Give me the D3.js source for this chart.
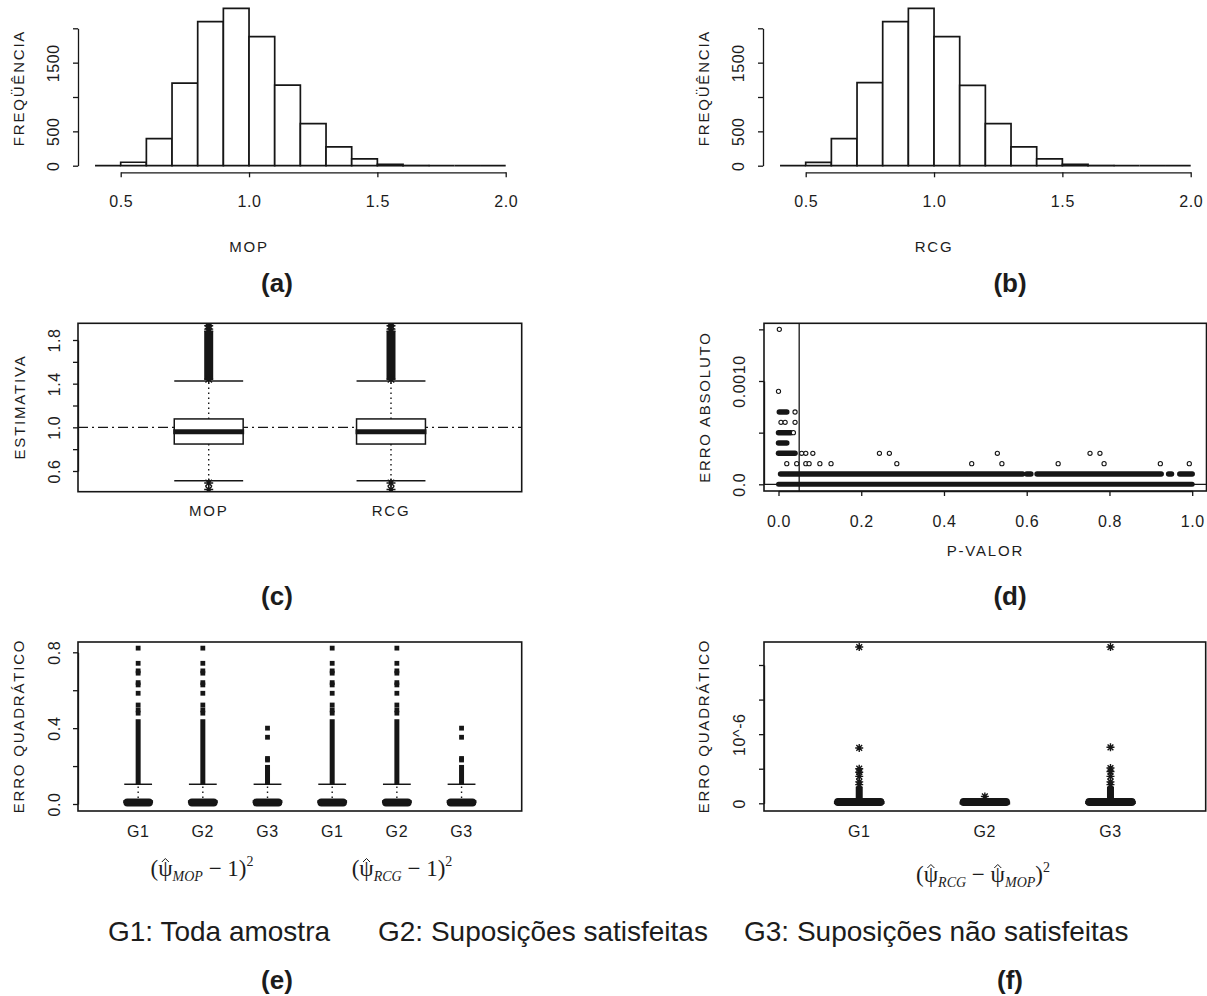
<!DOCTYPE html>
<html>

<head>
    <meta charset="UTF-8" />
    <title>MOP x RCG</title>
    <style>
        body {
            margin: 0;
            padding: 0;
            background-color: white;
        }

        svg text {
            font-family: 'Liberation Sans', Arial, sans-serif;
            fill: #1c1c1c;
        }

        .rtext {
            font-size: 15px;
            letter-spacing: 1.8px;
        }

        .ticktext {
            font-size: 16px;
            letter-spacing: 0.6px;
        }

        text.formula {
            font-family: 'Liberation Serif', 'Times New Roman', serif;
        }
    </style>
</head>

<body>

    <script src="https://cdnjs.cloudflare.com/ajax/libs/d3/7.8.5/d3.min.js"></script>

    <script>
        // ---- data ----
        const histBreaks = [0.4, 0.5, 0.6, 0.7, 0.8, 0.9, 1.0, 1.1, 1.2, 1.3, 1.4, 1.5, 1.6, 1.7, 1.8, 1.9, 2.0]
        const mopCounts = [0, 50, 393, 1201, 2098, 2290, 1878, 1172, 613, 275, 99, 20, 3, 0, 0, 0]
        const rcgCounts = [0, 48, 393, 1208, 2098, 2290, 1878, 1168, 613, 275, 99, 20, 3, 0, 0, 0]
        const histXTicks = [0.5, 1.0, 1.5, 2.0]
        const histYTicks = [0, 500, 1000, 1500, 2000]
        const histYLabels = [0, 500, 1500]

        const estGroups = ['MOP', 'RCG']
        // lower whisker, q1, median, q3, upper whisker
        const estBox = [[0.51, 0.847, 0.96, 1.077, 1.424], [0.51, 0.847, 0.96, 1.077, 1.424]]
        const estOutRun = [1.44, 1.88]
        const estOutHigh = [1.90, 1.93, 1.96]
        const estOutLow = [0.49, 0.43]
        const estYTicks = [0.6, 0.8, 1.0, 1.2, 1.4, 1.6, 1.8]
        const estYLabels = [0.6, 1.0, 1.4, 1.8]

        const pXTicks = [0, 0.2, 0.4, 0.6, 0.8, 1.0]
        const errYTicks = [0, 0.0005, 0.001, 0.0015]
        const errYLabels = [0, 0.001]
        // [erro, p from, p to] : stretches where the points overlap into a bar
        const errRuns = [
            [0, 0, 1.0],
            [0.0001, 0.005, 0.025], [0.0001, 0.03, 0.455], [0.0001, 0.46, 0.59], [0.0001, 0.60, 0.61],
            [0.0001, 0.625, 0.925], [0.0001, 0.943, 0.95], [0.0001, 0.97, 1.0],
            [0.0003, 0.0, 0.04], [0.0004, 0.0, 0.02], [0.0005, 0.0, 0.03], [0.0007, 0.002, 0.02]
        ]
        // [p, erro] : single points
        const errPoints = [
            [0.002, 0.0015], [0.0, 0.0009],
            [0.04, 0.0007], [0.006, 0.0006], [0.016, 0.0006], [0.04, 0.0006], [0.036, 0.0005],
            [0.056, 0.0003], [0.066, 0.0003], [0.083, 0.0003], [0.244, 0.0003], [0.268, 0.0003],
            [0.529, 0.0003], [0.753, 0.0003], [0.777, 0.0003],
            [0.02, 0.0002], [0.044, 0.0002], [0.066, 0.0002], [0.074, 0.0002], [0.1, 0.0002], [0.127, 0.0002],
            [0.286, 0.0002], [0.467, 0.0002], [0.54, 0.0002], [0.676, 0.0002], [0.787, 0.0002],
            [0.923, 0.0002], [0.993, 0.0002]
        ]

        const sqGroups = ['G1', 'G2', 'G3', 'G1 ', 'G2 ', 'G3 ']
        const sqBox = [
            [0, 0.001, 0.012, 0.032, 0.104], [0, 0.001, 0.012, 0.032, 0.104], [0, 0.001, 0.012, 0.032, 0.104],
            [0, 0.001, 0.012, 0.032, 0.104], [0, 0.001, 0.012, 0.032, 0.104], [0, 0.001, 0.012, 0.032, 0.104]
        ]
        const sqOutRun = [[0.104, 0.447], [0.104, 0.447], [0.104, 0.206], [0.104, 0.447], [0.104, 0.447], [0.104, 0.206]]
        const sqOutG12 = [0.479, 0.496, 0.522, 0.584, 0.628, 0.64, 0.69, 0.702, 0.742, 0.822]
        const sqOutG3 = [0.232, 0.24, 0.352, 0.40]
        const sqOutliers = [sqOutG12, sqOutG12, sqOutG3, sqOutG12, sqOutG12, sqOutG3]
        const sqYTicks = [0, 0.2, 0.4, 0.6, 0.8]
        const sqYLabels = [0, 0.4, 0.8]

        // differences, in units of 10^-6
        const difGroups = ['G1', 'G2', 'G3']
        const difBox = [[0, 0, 0.1, 0.35, 0.4], [0, 0, 0.05, 0.3, 0.35], [0, 0, 0.1, 0.35, 0.4]]
        const difOutRun = [[0.4, 2.4], [0.35, 0.8], [0.4, 2.4]]
        const difOutliers = [[2.7, 3.1, 3.9, 4.5, 5.0, 8.0, 22.6], [1.0], [2.7, 3.1, 3.9, 4.6, 5.1, 8.1, 22.6]]
        const difYTicks = [0, 5, 10, 15, 20]
        const difYLabels = [0, 10]
        const difYLabelText = ['0', '10^-6']

        const legendItems = ['G1: Toda amostra', 'G2: Suposições satisfeitas', 'G3: Suposições não satisfeitas']

        // ---- drawing ----
        const ink = '#161616'
        const DX = 685

        const svg = d3.select('body').append('svg')
            .attr('width', 1207)
            .attr('height', 996)

        function vlabel(x, y, txt) {
            svg.append('text')
                .attr('class', 'rtext')
                .attr('transform', `translate(${x},${y}) rotate(-90)`)
                .attr('text-anchor', 'middle')
                .attr('dominant-baseline', 'central')
                .text(txt)
        }

        function hlabel(x, y, txt, cls) {
            svg.append('text')
                .attr('class', cls || 'rtext')
                .attr('x', x).attr('y', y)
                .attr('text-anchor', 'middle')
                .attr('dominant-baseline', 'central')
                .text(txt)
        }

        function tag(x, y, txt) {
            svg.append('text')
                .attr('x', x).attr('y', y)
                .attr('text-anchor', 'middle')
                .style('font-size', '26px')
                .style('font-weight', 'bold')
                .text(txt)
        }

        function yAxis(x, scale, ticks, fmt, labelX) {
            const g = svg.append('g')
                .attr('transform', `translate(${x},0)`)
                .call(d3.axisLeft(scale).tickValues(ticks).tickSize(5).tickSizeOuter(0).tickFormat(fmt))
            g.selectAll('.domain, .tick line').attr('stroke', ink).attr('stroke-width', 1.3)
            g.selectAll('.tick text')
                .attr('class', 'ticktext')
                .attr('x', null).attr('dy', null)
                .attr('transform', `translate(${labelX - x},0) rotate(-90)`)
                .attr('text-anchor', 'middle')
                .attr('dominant-baseline', 'central')
            return g
        }

        function xAxis(y, scale, ticks, fmt, labelY) {
            const g = svg.append('g')
                .attr('transform', `translate(0,${y})`)
                .call(d3.axisBottom(scale).tickValues(ticks).tickSize(5).tickSizeOuter(0).tickFormat(fmt))
            g.selectAll('.domain, .tick line').attr('stroke', ink).attr('stroke-width', 1.3)
            g.selectAll('.tick text')
                .attr('class', 'ticktext')
                .attr('y', labelY - y).attr('dy', null)
                .attr('dominant-baseline', 'central')
            return g
        }

        function frame(id, x0, x1, y0, y1) {
            svg.append('clipPath').attr('id', id)
                .append('rect').attr('x', x0).attr('y', y0).attr('width', x1 - x0).attr('height', y1 - y0)
            svg.append('rect')
                .attr('x', x0).attr('y', y0).attr('width', x1 - x0).attr('height', y1 - y0)
                .attr('fill', 'none').attr('stroke', ink).attr('stroke-width', 1.6)
            return svg.append('g').attr('clip-path', `url(#${id})`)
        }

        function starPath(x, y, r) {
            const d = r * 0.72
            return `M${x - r},${y}H${x + r}M${x},${y - r}V${y + r}` +
                `M${x - d},${y - d}L${x + d},${y + d}M${x - d},${y + d}L${x + d},${y - d}`
        }

        function labelFilter(list, fmt) {
            return d => list.includes(d) ? fmt(d) : ''
        }

        // (a) and (b) histograms
        function histogram(dx, counts, xlab) {
            const x = d3.scaleLinear([0.5, 2.0], [120.7 + dx, 505.7 + dx])
            const y = d3.scaleLinear([0, 2000], [165.7, 28.3])
            const bins = counts.map((c, i) => ({ x0: histBreaks[i], x1: histBreaks[i + 1], n: c }))
            svg.append('g').selectAll('path')
                .data(bins)
                .join('path')
                .attr('d', d => `M${x(d.x0)},${y(0)}V${y(d.n)}H${x(d.x1)}V${y(0)}Z`)
                .attr('fill', 'white')
                .attr('stroke', ink)
                .attr('stroke-width', 1.7)
            yAxis(78 + dx, y, histYTicks, labelFilter(histYLabels, d => String(d)), 53 + dx)
            xAxis(172.3, x, histXTicks, d3.format('.1f'), 202)
            vlabel(18 + dx, 88, 'FREQÜÊNCIA')
            hlabel(x(1.0), 246, xlab)
        }
        histogram(0, mopCounts, 'MOP')
        histogram(DX, rcgCounts, 'RCG')

        // generic box drawing for R style boxplots
        function boxes(g, x, y, groups, stats, bw, medW) {
            groups.forEach((k, i) => {
                const [lo, q1, med, q3, hi] = stats[i]
                const cx = x(k)
                g.append('line').attr('x1', cx).attr('x2', cx).attr('y1', y(q3)).attr('y2', y(hi))
                    .attr('stroke', ink).attr('stroke-width', 1.4).attr('stroke-dasharray', '1.5,3.5')
                g.append('line').attr('x1', cx).attr('x2', cx).attr('y1', y(q1)).attr('y2', y(lo))
                    .attr('stroke', ink).attr('stroke-width', 1.4).attr('stroke-dasharray', '1.5,3.5')
                    ;[lo, hi].forEach(v => {
                        g.append('line').attr('x1', cx - bw / 2).attr('x2', cx + bw / 2)
                            .attr('y1', y(v)).attr('y2', y(v))
                            .attr('stroke', ink).attr('stroke-width', 1.5)
                    })
                const raw = y(q1) - y(q3)
                const thin = raw < 7
                const h = thin ? 6.5 : raw
                g.append('rect').attr('x', cx - bw / 2).attr('width', bw)
                    .attr('y', thin ? y(q1) + 2 - h : y(q3)).attr('height', h)
                    .attr('fill', thin ? ink : 'white').attr('stroke', ink).attr('stroke-width', 1.5)
                    .attr('rx', thin ? 3 : 0)
                g.append('line').attr('x1', cx - bw / 2 - 1).attr('x2', cx + bw / 2 + 1)
                    .attr('y1', y(med)).attr('y2', y(med))
                    .attr('stroke', ink).attr('stroke-width', medW)
            })
        }

        // (c) estimates
        {
            const x = d3.scalePoint(estGroups, [78, 521.7]).padding(0.717)
            const y = d3.scaleLinear([0.6, 1.8], [471, 340])
            const g = frame('clipC', 78, 521.7, 323.3, 491.7)
            g.append('line').attr('x1', 78).attr('x2', 521.7).attr('y1', y(1.0)).attr('y2', y(1.0))
                .attr('stroke', ink).attr('stroke-width', 1.4).attr('stroke-dasharray', '10,4,2,4')
            boxes(g, x, y, estGroups, estBox, x.step() * 0.378, 5)
            estGroups.forEach(k => {
                const cx = x(k)
                g.append('rect').attr('x', cx - 4.5).attr('width', 9)
                    .attr('y', y(estOutRun[1])).attr('height', y(estOutRun[0]) - y(estOutRun[1]))
                    .attr('fill', ink)
                estOutRun.concat(estOutHigh, estOutLow).forEach(v => {
                    g.append('path').attr('d', starPath(cx, y(v), 4.5))
                        .attr('stroke', ink).attr('stroke-width', 1.4)
                })
                hlabel(cx, 510.7, k)
            })
            yAxis(78, y, estYTicks, labelFilter(estYLabels, d3.format('.1f')), 54)
            vlabel(19, 407, 'ESTIMATIVA')
        }

        // (d) absolute error vs p-value
        {
            const x = d3.scaleLinear([0, 1], [778.5, 1192.2])
            const y = d3.scaleLinear([0, 0.001], [484.3, 381])
            const g = frame('clipD', 764, 1206.5, 323.3, 491)
            g.append('line').attr('x1', x(0.05)).attr('x2', x(0.05)).attr('y1', 323.3).attr('y2', 491)
                .attr('stroke', ink).attr('stroke-width', 1.3)
            g.append('line').attr('x1', 764).attr('x2', 1206.5).attr('y1', y(0)).attr('y2', y(0))
                .attr('stroke', ink).attr('stroke-width', 1.3)
            g.selectAll('line.run')
                .data(errRuns)
                .join('line')
                .attr('class', 'run')
                .attr('x1', d => x(d[1])).attr('x2', d => x(d[2]))
                .attr('y1', d => y(d[0])).attr('y2', d => y(d[0]))
                .attr('stroke', ink)
                .attr('stroke-width', d => d[0] === 0 ? 5 : 5.5)
                .attr('stroke-linecap', 'round')
            g.selectAll('circle')
                .data(errPoints)
                .join('circle')
                .attr('cx', d => x(d[0]))
                .attr('cy', d => y(d[1]))
                .attr('r', 2.1)
                .attr('fill', 'white')
                .attr('stroke', ink)
                .attr('stroke-width', 1.1)
            yAxis(764, y, errYTicks, labelFilter(errYLabels, d => d === 0 ? '0.0' : d3.format('.4f')(d)), 739)
            xAxis(491, x, pXTicks, d3.format('.1f'), 521)
            vlabel(704, 407, 'ERRO ABSOLUTO')
            hlabel(x(0.5), 550, 'P-VALOR')
        }

        // (e) squared error, six groups
        {
            const x = d3.scalePoint(sqGroups, [78, 521.7]).padding(0.93)
            const y = d3.scaleLinear([0, 0.8], [804, 652.3])
            const g = frame('clipE', 78, 521.7, 642, 811)
            const bw = x.step() * 0.43
            sqGroups.forEach((k, i) => {
                const cx = x(k)
                const run = sqOutRun[i]
                g.append('rect').attr('x', cx - 2.5).attr('width', 5)
                    .attr('y', y(run[1])).attr('height', y(run[0]) - y(run[1]))
                    .attr('fill', ink)
                g.selectAll(null)
                    .data(sqOutliers[i])
                    .join('rect')
                    .attr('x', cx - 2.4).attr('width', 4.8)
                    .attr('y', d => y(d) - 2.4).attr('height', 4.8)
                    .attr('fill', ink)
                hlabel(cx, 831, k.trim(), 'ticktext')
            })
            boxes(g, x, y, sqGroups, sqBox, bw, 3)
            yAxis(78, y, sqYTicks, labelFilter(sqYLabels, d3.format('.1f')), 54)
            vlabel(18.5, 726, 'ERRO QUADRÁTICO')
        }

        // (f) squared difference between estimators
        {
            const x = d3.scalePoint(difGroups, [764, 1205.7]).padding(0.758)
            const y = d3.scaleLinear([0, 20], [803.3, 665])
            const g = frame('clipF', 764, 1205.7, 642, 811)
            const bw = x.step() * 0.387
            difGroups.forEach((k, i) => {
                const cx = x(k)
                const run = difOutRun[i]
                g.append('rect').attr('x', cx - 3.5).attr('width', 7)
                    .attr('y', y(run[1])).attr('height', y(run[0]) - y(run[1]))
                    .attr('fill', ink)
                difOutliers[i].forEach(v => {
                    g.append('path').attr('d', starPath(cx, y(v), 4))
                        .attr('stroke', ink).attr('stroke-width', 1.4)
                })
                hlabel(cx, 831, k, 'ticktext')
            })
            boxes(g, x, y, difGroups, difBox, bw, 3)
            yAxis(764, y, difYTicks, d => difYLabels.includes(d) ? difYLabelText[difYLabels.indexOf(d)] : '', 739)
            vlabel(703, 726, 'ERRO QUADRÁTICO')
        }

        // formulas under (e) and (f)
        function formula(cx, y, pieces) {
            const t = svg.append('text')
                .attr('class', 'formula')
                .attr('x', cx).attr('y', y)
                .attr('text-anchor', 'middle')
                .style('font-size', '23px')
            let shift = 0
            pieces.forEach(p => {
                const want = p.sub ? 5 : p.sup ? -10 : 0
                t.append('tspan')
                    .attr('dy', want - shift)
                    .style('font-size', p.sub || p.sup ? '14px' : null)
                    .style('font-style', p.sub ? 'italic' : null)
                    .text(p.t)
                shift = want
            })
            // hats over every psi
            const node = t.node()
            const full = node.textContent
            for (let i = 0; i < full.length; i++) {
                if (full[i] !== 'ψ') continue
                const b = node.getExtentOfChar(i)
                const hx = b.x + b.width / 2
                const hy = b.y + b.height * 0.12
                svg.append('path')
                    .attr('d', `M${hx - 3.5},${hy + 3}L${hx},${hy - 0.5}L${hx + 3.5},${hy + 3}`)
                    .attr('fill', 'none').attr('stroke', ink).attr('stroke-width', 1)
            }
        }
        formula(202, 876, [{ t: '(ψ' }, { t: 'MOP', sub: true }, { t: ' − 1)' }, { t: '2', sup: true }])
        formula(402, 876, [{ t: '(ψ' }, { t: 'RCG', sub: true }, { t: ' − 1)' }, { t: '2', sup: true }])
        formula(983, 882, [{ t: '(ψ' }, { t: 'RCG', sub: true }, { t: ' − ψ' }, { t: 'MOP', sub: true }, { t: ')' }, { t: '2', sup: true }])

        // legend line
        const legendX = [108, 378, 744]
        svg.append('g').selectAll('text')
            .data(legendItems)
            .join('text')
            .attr('x', (d, i) => legendX[i])
            .attr('y', 941)
            .style('font-size', '28px')
            .text(d => d)

        tag(277, 292, '(a)')
        tag(1010, 292, '(b)')
        tag(277, 605, '(c)')
        tag(1010, 605, '(d)')
        tag(277, 989, '(e)')
        tag(1010, 989, '(f)')
    </script>
</body>

</html>
